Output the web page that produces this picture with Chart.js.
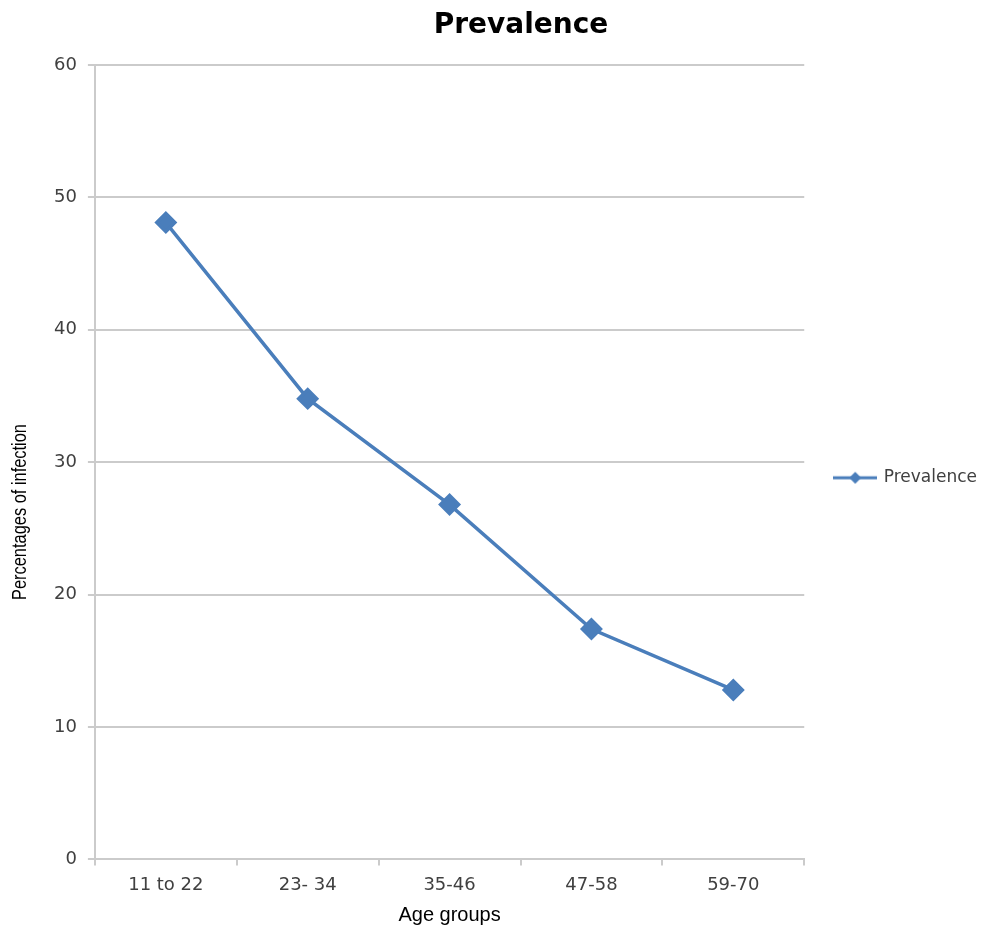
<!DOCTYPE html>
<html>
<head>
<meta charset="utf-8">
<title>Prevalence</title>
<script src="https://cdn.jsdelivr.net/npm/chart.js@4"></script>
<style>
  html, body { margin: 0; padding: 0; background: #fff; }
  #wrap { width: 982px; height: 925px; }
</style>
</head>
<body>
<div id="wrap"><canvas id="chart"></canvas></div>
<script>
// Data
const ageGroups = ['11 to 22', '23- 34', '35-46', '47-58', '59-70'];
const prevalence = [48.1, 34.8, 26.8, 17.4, 12.8];
const seriesName = 'Prevalence';
const chartTitle = 'Prevalence';
const xTitle = 'Age groups';
const yTitle = 'Percentages of infection';

const lineColor = '#4a7ebb';
const gridColor = '#cbcbcb';
const tickColor = '#404040';

// Legend marker: short line with a diamond in the middle
function legendMarker() {
    const c = document.createElement('canvas');
    c.width = 44;
    c.height = 18;
    const g = c.getContext('2d');
    g.strokeStyle = lineColor;
    g.lineWidth = 3;
    g.beginPath();
    g.moveTo(0, 9);
    g.lineTo(44, 9);
    g.stroke();
    g.fillStyle = lineColor;
    g.beginPath();
    g.moveTo(22, 3);
    g.lineTo(28, 9);
    g.lineTo(22, 15);
    g.lineTo(16, 9);
    g.closePath();
    g.fill();
    return c;
}

// Chart title and the (narrow) y axis title, placed like the Excel original
const titlePlugin = {
    id: 'excelTitles',
    afterDraw(chart) {
        const ctx = chart.ctx;
        ctx.save();
        ctx.font = 'bold 28px "DejaVu Sans"';
        ctx.fillStyle = '#000';
        ctx.textAlign = 'center';
        ctx.textBaseline = 'middle';
        ctx.fillText(chartTitle, chart.width / 2 + 30, 26);
        ctx.restore();

        ctx.save();
        ctx.translate(20, 512);
        ctx.rotate(-Math.PI / 2);
        ctx.scale(0.82, 1); // narrow face
        ctx.font = '20px "Liberation Sans"';
        ctx.fillStyle = '#000';
        ctx.textAlign = 'center';
        ctx.textBaseline = 'middle';
        ctx.fillText(yTitle, 0, 0);
        ctx.restore();
    }
};

const ctx = document.getElementById('chart').getContext('2d');
new Chart(ctx, {
    type: 'line',
    data: {
        labels: ageGroups,
        datasets: [{
            label: seriesName,
            data: prevalence,
            borderColor: lineColor,
            backgroundColor: lineColor,
            borderWidth: 3.5,
            tension: 0,
            pointStyle: 'rectRot',
            pointRadius: 9,
            pointHoverRadius: 9,
            pointBackgroundColor: lineColor,
            pointBorderColor: lineColor
        }]
    },
    options: {
        responsive: true,
        maintainAspectRatio: false,
        animation: false,
        layout: {
            padding: { top: 65, left: 43, right: -5, bottom: 0 }
        },
        scales: {
            x: {
                type: 'category',
                offset: true,
                grid: {
                    offset: true,
                    drawOnChartArea: false,
                    drawTicks: true,
                    tickLength: 6,
                    color: gridColor,
                    lineWidth: 2
                },
                border: { color: gridColor, width: 2 },
                ticks: {
                    color: tickColor,
                    padding: 9,
                    font: { family: '"DejaVu Sans"', size: 18 }
                },
                title: {
                    display: true,
                    text: xTitle,
                    color: '#000',
                    padding: { top: 0, bottom: 0 },
                    font: { family: '"Liberation Sans"', size: 20, lineHeight: 1 }
                }
            },
            y: {
                min: 0,
                max: 60,
                ticks: {
                    stepSize: 10,
                    color: tickColor,
                    padding: 11,
                    font: { family: '"DejaVu Sans"', size: 18 }
                },
                grid: {
                    color: gridColor,
                    lineWidth: 2,
                    tickLength: 7
                },
                border: { color: gridColor, width: 2 }
            }
        },
        plugins: {
            title: { display: false },
            tooltip: { enabled: false },
            legend: {
                position: 'right',
                fullSize: false,
                title: {
                    display: true,
                    text: ' ',
                    font: { size: 1 },
                    padding: { top: 0, bottom: 30 }
                },
                labels: {
                    usePointStyle: true,
                    pointStyle: legendMarker(),
                    pointStyleWidth: 40,
                    padding: 31,
                    color: tickColor,
                    font: { family: '"DejaVu Sans"', size: 17 }
                }
            }
        }
    },
    plugins: [titlePlugin]
});
</script>
</body>
</html>
